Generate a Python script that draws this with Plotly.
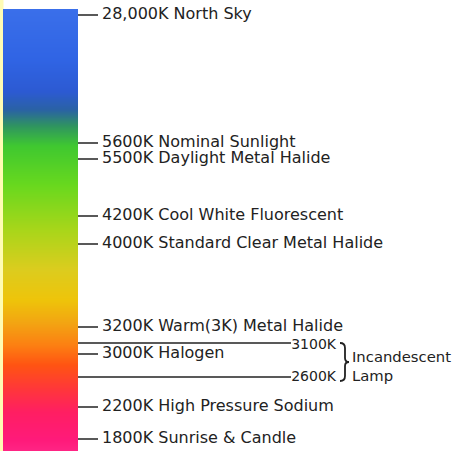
import plotly.graph_objects as go
import numpy as np

# ---- data ----
temps = ["28,000K", "5600K", "5500K", "4200K", "4000K", "3200K", "3000K", "2200K", "1800K"]
descs = ["North Sky", "Nominal Sunlight", "Daylight Metal Halide", "Cool White Fluorescent",
         "Standard Clear Metal Halide", "Warm(3K) Metal Halide", "Halogen",
         "High Pressure Sodium", "Sunrise & Candle"]
scale_pos = [15, 143, 159, 216, 244, 327, 354, 407, 439]

lamp_temps = ["3100K", "2600K"]
lamp_pos = [343, 377]
lamp_label = "Incandescent<br>Lamp"

grad_pos = [9, 60, 92, 110, 126, 146, 185, 230, 270, 300, 322, 345, 365, 388, 412, 440, 451]
grad_col = ["#3a6fea", "#3064e4", "#2c5ad2", "#2a62a4", "#2f9460", "#3fc830", "#68d81e",
            "#a8d61a", "#dccc1e", "#eec40a", "#f2a612", "#fc8012", "#ff5412", "#ff3838",
            "#ff1e62", "#ff1a7a", "#ff2484"]

FONT = "DejaVu Sans"
TXT = "#222222"

ytop, ybot = grad_pos[0], grad_pos[-1]
edges = np.arange(ytop, ybot + 1, 1)
centers = (edges[:-1] + edges[1:]) / 2
cs = [[(p - ytop) / (ybot - ytop), c] for p, c in zip(grad_pos, grad_col)]

fig = go.Figure()
fig.add_trace(go.Heatmap(x=[3, 78], y=edges, z=[[v] for v in centers], colorscale=cs,
                         zmin=ytop, zmax=ybot, showscale=False, hoverinfo="skip"))

# tick marks
tx, ty = [], []
for p in scale_pos:
    tx += [78, 98, None]
    ty += [p, p, None]
for p, end in zip(lamp_pos, [291, 291]):
    tx += [78, end, None]
    ty += [p, p, None]
fig.add_trace(go.Scatter(x=tx, y=ty, mode="lines", line=dict(color=TXT, width=1.5),
                         hoverinfo="skip"))

# labels
fig.add_trace(go.Scatter(x=[102] * len(temps), y=scale_pos, mode="text",
                         text=[f"{t} {d}" for t, d in zip(temps, descs)],
                         textposition="middle right",
                         textfont=dict(family=FONT, size=16, color=TXT), hoverinfo="skip"))
fig.add_trace(go.Scatter(x=[336] * len(lamp_temps), y=[lamp_pos[0] + 2, lamp_pos[1]], mode="text",
                         text=lamp_temps, textposition="middle left",
                         textfont=dict(family=FONT, size=14, color=TXT), hoverinfo="skip"))
fig.add_trace(go.Scatter(x=[352], y=[(lamp_pos[0] + lamp_pos[1]) / 2 + 8], mode="text",
                         text=[lamp_label], textposition="middle right",
                         textfont=dict(family=FONT, size=14.8, color=TXT), hoverinfo="skip"))

y0, y1 = lamp_pos[0], lamp_pos[1] + 4
ym = (y0 + y1) / 2
brace = (f"M 340 {y0} Q 345 {y0} 345 {y0+5} L 345 {ym-4} Q 345 {ym} 349 {ym} "
         f"Q 345 {ym} 345 {ym+4} L 345 {y1-5} Q 345 {y1} 340 {y1}")

fig.update_layout(
    width=456, height=451, margin=dict(l=0, r=0, t=0, b=0),
    paper_bgcolor="white", plot_bgcolor="white", showlegend=False,
    xaxis=dict(range=[0, 456], visible=False, fixedrange=True),
    yaxis=dict(range=[451, 0], visible=False, fixedrange=True),
    shapes=[
        dict(type="rect", xref="x", yref="y", x0=0, x1=3.5, y0=0, y1=451,
             fillcolor="#fffcb4", line=dict(width=0), layer="below"),
        dict(type="path", xref="x", yref="y", path=brace, line=dict(color=TXT, width=1.8)),
    ],
)
fig.write_html("out.html", config={"displayModeBar": False},
               post_script="document.body.style.margin='0';document.body.style.overflow='hidden';")
